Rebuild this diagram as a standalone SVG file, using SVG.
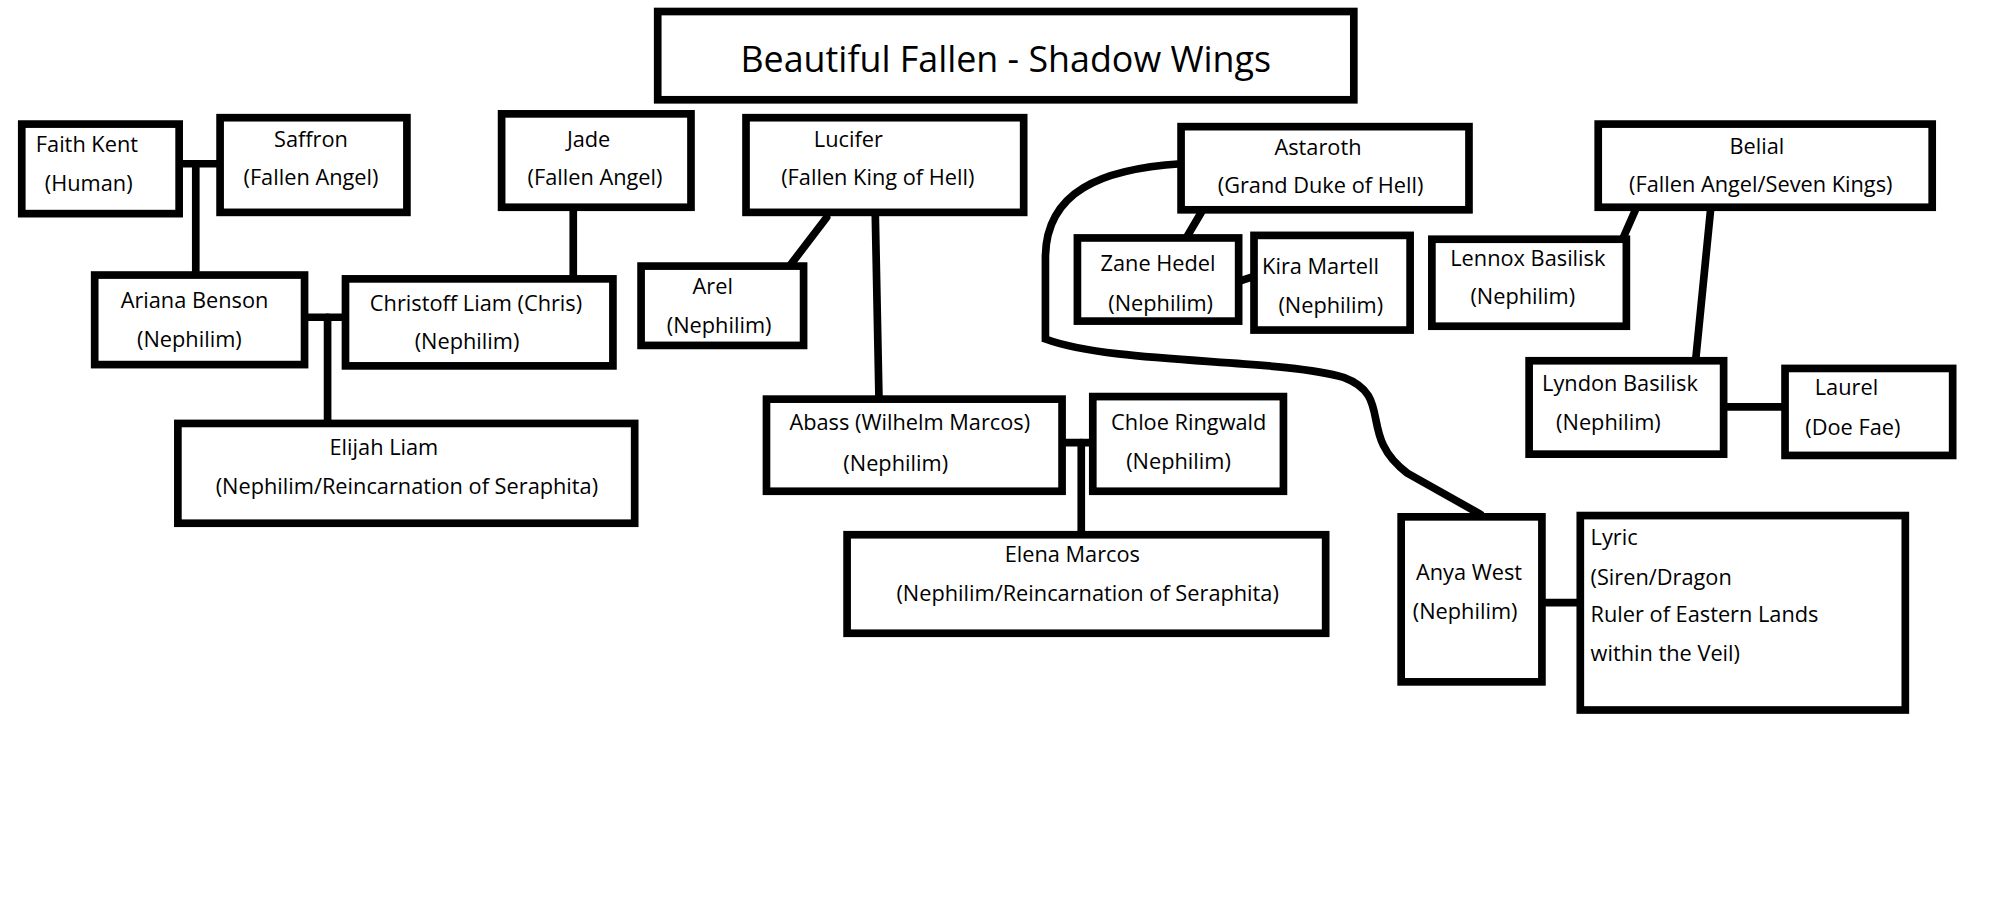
<svg xmlns="http://www.w3.org/2000/svg" width="2000" height="916" viewBox="0 0 2000 916">
<style>
rect{fill:#fff;stroke:#000;stroke-width:6}
text{font-family:"Open Sans","DejaVu Sans",sans-serif;font-size:17px;fill:#000}
.c{text-anchor:middle}
.t{font-size:28px}
#conn path,#conn line{stroke:#000;stroke-width:6;fill:none;stroke-linecap:round}
</style>
<rect x="0" y="0" width="2000" height="916" style="stroke:none"/>
<g transform="scale(1.2796,1.2793)">
<g id="conn">
<line x1="140" y1="128" x2="172" y2="128"/><line x1="153" y1="128" x2="153" y2="215"/>
<line x1="238" y1="248" x2="270" y2="248"/><line x1="256" y1="248" x2="256" y2="331"/>
<line x1="448" y1="162" x2="448" y2="218"/>
<line x1="646" y1="170" x2="617" y2="208"/>
<line x1="684" y1="166" x2="687" y2="316"/>
<line x1="830" y1="346" x2="854" y2="346"/><line x1="845" y1="346" x2="845" y2="418"/>
<line x1="940" y1="164" x2="927" y2="186"/>
<line x1="968" y1="220" x2="980" y2="216"/>
<path d="M923,128 C860,132 818,150 817,200 L817,265 C870,285 1000,280 1050,295 C1090,310 1060,340 1100,370 L1157,402"/>
<line x1="1279" y1="162" x2="1268" y2="187"/>
<line x1="1337" y1="162" x2="1325" y2="283"/>
<line x1="1347" y1="318" x2="1395" y2="318"/>
<line x1="1205" y1="471" x2="1235" y2="471"/>
</g>
<g id="title"><rect x="514" y="9" width="544" height="69"/><text class="c t" x="786" y="56">Beautiful Fallen - Shadow Wings</text></g>
<g id="faith"><rect x="17" y="97" width="123" height="70"/><text x="28" y="119">Faith Kent</text><text x="35" y="149">(Human)</text></g>
<g id="saffron"><rect x="172" y="92" width="146" height="74"/><text class="c" x="243" y="115">Saffron</text><text class="c" x="243" y="145">(Fallen Angel)</text></g>
<g id="jade"><rect x="392" y="89" width="148" height="73"/><text class="c" x="460" y="115">Jade</text><text class="c" x="465" y="145">(Fallen Angel)</text></g>
<g id="lucifer"><rect x="583" y="92" width="217" height="74"/><text class="c" x="663" y="115">Lucifer</text><text class="c" x="686" y="145">(Fallen King of Hell)</text></g>
<g id="astaroth"><rect x="923" y="99" width="225" height="65"/><text class="c" x="1030" y="121">Astaroth</text><text class="c" x="1032" y="151">(Grand Duke of Hell)</text></g>
<g id="belial"><rect x="1249" y="97" width="261" height="65"/><text class="c" x="1373" y="120">Belial</text><text class="c" x="1376" y="150">(Fallen Angel/Seven Kings)</text></g>
<g id="ariana"><rect x="74" y="215" width="164" height="70"/><text class="c" x="152" y="241">Ariana Benson</text><text class="c" x="148" y="271">(Nephilim)</text></g>
<g id="christoff"><rect x="270" y="218" width="209" height="68"/><text class="c" x="372" y="243">Christoff Liam (Chris)</text><text class="c" x="365" y="273">(Nephilim)</text></g>
<g id="arel"><rect x="501" y="208" width="127" height="62"/><text class="c" x="557" y="230">Arel</text><text class="c" x="562" y="260">(Nephilim)</text></g>
<g id="zane"><rect x="842" y="186" width="126" height="65"/><text class="c" x="905" y="212">Zane Hedel</text><text class="c" x="907" y="243">(Nephilim)</text></g>
<g id="kira"><rect x="980" y="184" width="122" height="74"/><text class="c" x="1032" y="214">Kira Martell</text><text class="c" x="1040" y="245">(Nephilim)</text></g>
<g id="lennox"><rect x="1119" y="187" width="152" height="68"/><text class="c" x="1194" y="208">Lennox Basilisk</text><text class="c" x="1190" y="238">(Nephilim)</text></g>
<g id="lyndon"><rect x="1195" y="282" width="152" height="73"/><text class="c" x="1266" y="306">Lyndon Basilisk</text><text class="c" x="1257" y="336">(Nephilim)</text></g>
<g id="laurel"><rect x="1395" y="288" width="131" height="68"/><text class="c" x="1443" y="309">Laurel</text><text class="c" x="1448" y="340">(Doe Fae)</text></g>
<g id="elijah"><rect x="139" y="331" width="357" height="78"/><text class="c" x="300" y="356">Elijah Liam</text><text class="c" x="318" y="386">(Nephilim/Reincarnation of Seraphita)</text></g>
<g id="abass"><rect x="599" y="312" width="231" height="72"/><text class="c" x="711" y="336">Abass (Wilhelm Marcos)</text><text class="c" x="700" y="368">(Nephilim)</text></g>
<g id="chloe"><rect x="854" y="310" width="149" height="74"/><text class="c" x="929" y="336">Chloe Ringwald</text><text class="c" x="921" y="367">(Nephilim)</text></g>
<g id="elena"><rect x="662" y="418" width="374" height="77"/><text class="c" x="838" y="439">Elena Marcos</text><text class="c" x="850" y="470">(Nephilim/Reincarnation of Seraphita)</text></g>
<g id="anya"><rect x="1095" y="404" width="110" height="129"/><text class="c" x="1148" y="453">Anya West</text><text class="c" x="1145" y="484">(Nephilim)</text></g>
<g id="lyric"><rect x="1235" y="403" width="254" height="152"/><text x="1243" y="426">Lyric</text><text x="1243" y="457">(Siren/Dragon</text><text x="1243" y="486">Ruler of Eastern Lands</text><text x="1243" y="517">within the Veil)</text></g>
</g>
</svg>
